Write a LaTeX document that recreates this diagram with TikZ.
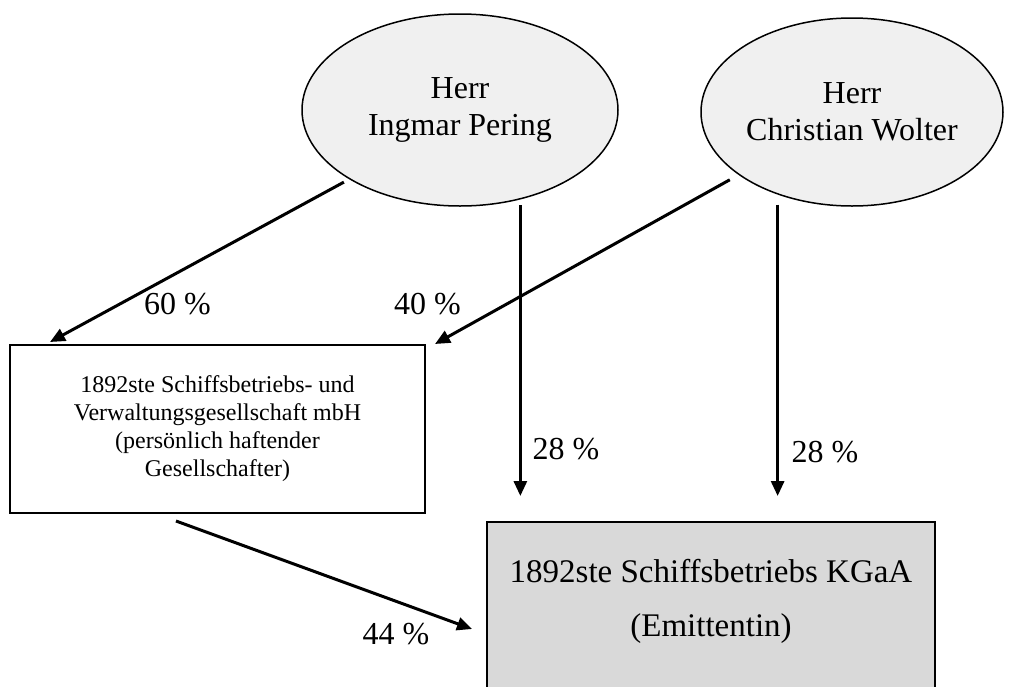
\documentclass[tikz,border=0pt]{standalone}
\usepackage{fontspec}
\setmainfont{Liberation Serif}
\usetikzlibrary{shapes.geometric,arrows.meta}

\begin{document}
\begin{tikzpicture}[
  x=1pt, y=-1pt,
  person/.style = {shape=ellipse, draw, line width=1.5pt, fill=black!6,
    inner sep=0pt, align=center, font=\fontsize{32}{37}\selectfont},
  gmbhbox/.style = {shape=rectangle, draw, line width=2pt, inner sep=0pt,
    align=center, font=\fontsize{24}{28}\selectfont},
  kgaabox/.style = {shape=rectangle, draw, line width=2pt, fill=black!15,
    inner sep=0pt},
  share/.style = {line width=3pt, -{Triangle[length=15pt,width=13pt]}},
  pct/.style = {inner sep=0pt, font=\fontsize{32}{37}\selectfont}
  ]
  \useasboundingbox (0,0) rectangle (1010,686);
  \clip (0,0) rectangle (1010,686);

  % owners
  \node[person, minimum width=316pt, minimum height=192pt] (pering) at (460,110)
    {Herr\\Ingmar Pering};
  \node[person, minimum width=302pt, minimum height=188pt] (wolter) at (852,112)
    {Herr\\Christian Wolter};

  % companies
  \node[gmbhbox, minimum width=415pt, minimum height=168pt] (gmbh) at (217.5,429)
    {1892ste Schiffsbetriebs- und\\Verwaltungsgesellschaft mbH\\(persönlich haftender\\Gesellschafter)};
  \node[kgaabox, anchor=north west, minimum width=448pt, minimum height=200pt] (kgaa) at (486,521) {};
  \node[align=center, font=\fontsize{33}{54}\selectfont] (kgaatext) at (711,601)
    {1892ste Schiffsbetriebs KGaA\\(Emittentin)};

  % shares
  \draw[share, shorten <=6pt] (pering.212) -- ([xshift=41pt,yshift=2pt]gmbh.north west);
  \draw[share, shorten <=10pt] (wolter.209) -- ([xshift=9pt]gmbh.north east);
  \draw[share, shorten <=6pt, shorten >=25pt] (pering.-56.5) -- (pering.-56.5 |- kgaa.north);
  \draw[share, shorten <=10pt, shorten >=25pt] (wolter.-132) -- (wolter.-132 |- kgaa.north);
  \draw[share] ([xshift=-41.5pt,yshift=-7pt]gmbh.south) -- ([xshift=-14pt,yshift=-108pt]kgaa.north west);

  \node[pct] (p60) at (177.5,304) {60 \%};
  \node[pct] (p40) at (427.5,304) {40 \%};
  \node[pct] (p28a) at (566,449) {28 \%};
  \node[pct] (p28b) at (825,452) {28 \%};
  \node[pct] (p44) at (396,634) {44 \%};
\end{tikzpicture}
\end{document}
